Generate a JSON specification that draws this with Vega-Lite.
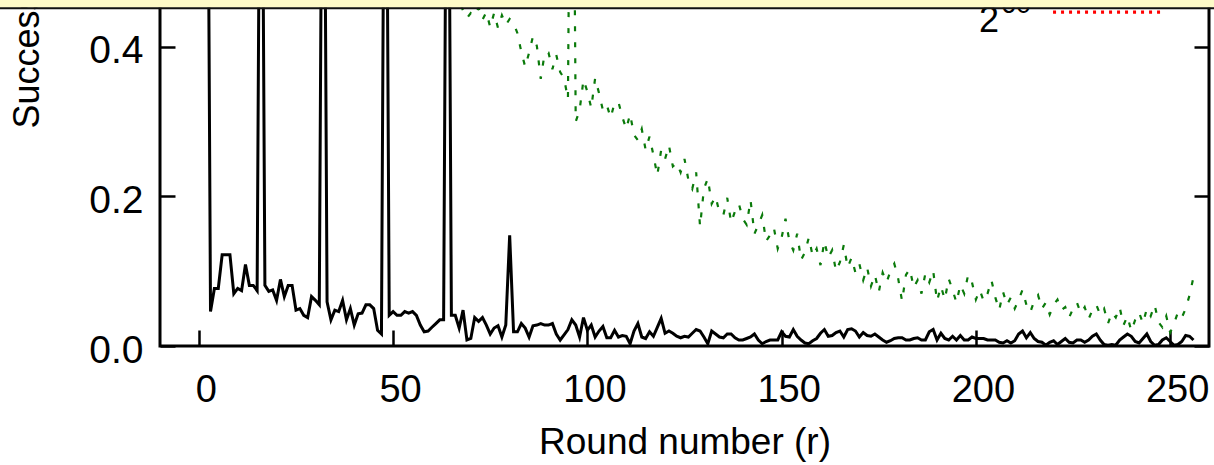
{
"$schema": "https://vega.github.io/schema/vega-lite/v6.json",
"width": 1049,
"height": 346,
"autosize": {"type": "none"},
"padding": {"left": 160, "top": 0, "right": 5, "bottom": 119},
"background": "white",
"config": {"font": "Liberation Sans", "view": {"stroke": "#000", "strokeWidth": 3}},
"resolve": {"axis": {"y": "independent"}},
"datasets": {
"measured": [
{"r":1,"p":1.0},{"r":2,"p":1.0},{"r":3,"p":0.046},{"r":4,"p":0.077},{"r":5,"p":0.077},{"r":6,"p":0.122},{"r":7,"p":0.122},{"r":8,"p":0.122},{"r":9,"p":0.070},{"r":10,"p":0.077},
{"r":11,"p":0.074},{"r":12,"p":0.109},{"r":13,"p":0.081},{"r":14,"p":0.081},{"r":15,"p":0.074},{"r":16,"p":1.0},{"r":17,"p":0.081},{"r":18,"p":0.073},{"r":19,"p":0.075},{"r":20,"p":0.061},
{"r":21,"p":0.089},{"r":22,"p":0.066},{"r":23,"p":0.081},{"r":24,"p":0.081},{"r":25,"p":0.048},{"r":26,"p":0.050},{"r":27,"p":0.041},{"r":28,"p":0.038},{"r":29,"p":0.066},{"r":30,"p":0.061},
{"r":31,"p":0.055},{"r":32,"p":1.0},{"r":33,"p":0.059},{"r":34,"p":0.035},{"r":35,"p":0.048},{"r":36,"p":0.046},{"r":37,"p":0.061},{"r":38,"p":0.035},{"r":39,"p":0.050},{"r":40,"p":0.028},
{"r":41,"p":0.043},{"r":42,"p":0.044},{"r":43,"p":0.055},{"r":44,"p":0.055},{"r":45,"p":0.050},{"r":46,"p":0.021},{"r":47,"p":0.016},{"r":48,"p":1.0},{"r":49,"p":0.041},{"r":50,"p":0.046},
{"r":51,"p":0.041},{"r":52,"p":0.041},{"r":53,"p":0.046},{"r":54,"p":0.044},{"r":55,"p":0.046},{"r":56,"p":0.041},{"r":57,"p":0.028},{"r":58,"p":0.019},{"r":59,"p":0.020},{"r":60,"p":0.025},
{"r":61,"p":0.030},{"r":62,"p":0.035},{"r":63,"p":0.035},{"r":64,"p":1.0},{"r":65,"p":0.041},{"r":66,"p":0.041},{"r":67,"p":0.024},{"r":68,"p":0.048},{"r":69,"p":0.008},{"r":70,"p":0.010},
{"r":71,"p":0.038},{"r":72,"p":0.033},{"r":73,"p":0.038},{"r":74,"p":0.028},{"r":75,"p":0.016},{"r":76,"p":0.024},{"r":77,"p":0.027},{"r":78,"p":0.012},{"r":79,"p":0.028},{"r":80,"p":0.148},
{"r":81,"p":0.019},{"r":82,"p":0.019},{"r":83,"p":0.030},{"r":84,"p":0.024},{"r":85,"p":0.012},{"r":86,"p":0.027},{"r":87,"p":0.028},{"r":88,"p":0.030},{"r":89,"p":0.028},{"r":90,"p":0.028},
{"r":91,"p":0.030},{"r":92,"p":0.016},{"r":93,"p":0.008},{"r":94,"p":0.015},{"r":95,"p":0.022},{"r":96,"p":0.035},{"r":97,"p":0.028},{"r":98,"p":0.012},{"r":99,"p":0.038},{"r":100,"p":0.021},
{"r":101,"p":0.028},{"r":102,"p":0.012},{"r":103,"p":0.020},{"r":104,"p":0.026},{"r":105,"p":0.011},{"r":106,"p":0.011},{"r":107,"p":0.021},{"r":108,"p":0.012},{"r":109,"p":0.014},{"r":110,"p":0.013},
{"r":111,"p":0.003},{"r":112,"p":0.020},{"r":113,"p":0.030},{"r":114,"p":0.012},{"r":115,"p":0.010},{"r":116,"p":0.019},{"r":117,"p":0.013},{"r":118,"p":0.025},{"r":119,"p":0.037},{"r":120,"p":0.017},
{"r":121,"p":0.020},{"r":122,"p":0.017},{"r":123,"p":0.013},{"r":124,"p":0.011},{"r":125,"p":0.013},{"r":126,"p":0.012},{"r":127,"p":0.017},{"r":128,"p":0.022},{"r":129,"p":0.020},{"r":130,"p":0.012},
{"r":131,"p":0.003},{"r":132,"p":0.020},{"r":133,"p":0.016},{"r":134,"p":0.012},{"r":135,"p":0.011},{"r":136,"p":0.016},{"r":137,"p":0.016},{"r":138,"p":0.011},{"r":139,"p":0.008},{"r":140,"p":0.008},
{"r":141,"p":0.010},{"r":142,"p":0.012},{"r":143,"p":0.016},{"r":144,"p":0.008},{"r":145,"p":0.003},{"r":146,"p":0.006},{"r":147,"p":0.008},{"r":148,"p":0.008},{"r":149,"p":0.008},{"r":150,"p":0.019},
{"r":151,"p":0.013},{"r":152,"p":0.012},{"r":153,"p":0.022},{"r":154,"p":0.013},{"r":155,"p":0.008},{"r":156,"p":0.004},{"r":157,"p":0.003},{"r":158,"p":0.007},{"r":159,"p":0.010},{"r":160,"p":0.017},
{"r":161,"p":0.022},{"r":162,"p":0.013},{"r":163,"p":0.014},{"r":164,"p":0.018},{"r":165,"p":0.020},{"r":166,"p":0.012},{"r":167,"p":0.022},{"r":168,"p":0.023},{"r":169,"p":0.020},{"r":170,"p":0.012},
{"r":171,"p":0.018},{"r":172,"p":0.014},{"r":173,"p":0.013},{"r":174,"p":0.016},{"r":175,"p":0.012},{"r":176,"p":0.008},{"r":177,"p":0.005},{"r":178,"p":0.007},{"r":179,"p":0.010},{"r":180,"p":0.011},
{"r":181,"p":0.011},{"r":182,"p":0.008},{"r":183,"p":0.008},{"r":184,"p":0.010},{"r":185,"p":0.011},{"r":186,"p":0.008},{"r":187,"p":0.008},{"r":188,"p":0.019},{"r":189,"p":0.022},{"r":190,"p":0.008},
{"r":191,"p":0.017},{"r":192,"p":0.010},{"r":193,"p":0.008},{"r":194,"p":0.013},{"r":195,"p":0.008},{"r":196,"p":0.014},{"r":197,"p":0.008},{"r":198,"p":0.008},{"r":199,"p":0.012},{"r":200,"p":0.010},
{"r":201,"p":0.010},{"r":202,"p":0.010},{"r":203,"p":0.008},{"r":204,"p":0.008},{"r":205,"p":0.008},{"r":206,"p":0.005},{"r":207,"p":0.004},{"r":208,"p":0.007},{"r":209,"p":0.004},{"r":210,"p":0.007},
{"r":211,"p":0.016},{"r":212,"p":0.020},{"r":213,"p":0.011},{"r":214,"p":0.018},{"r":215,"p":0.010},{"r":216,"p":0.006},{"r":217,"p":0.005},{"r":218,"p":0.001},{"r":219,"p":0.005},{"r":220,"p":0.007},
{"r":221,"p":0.002},{"r":222,"p":0.006},{"r":223,"p":0.010},{"r":224,"p":0.005},{"r":225,"p":0.004},{"r":226,"p":0.008},{"r":227,"p":0.008},{"r":228,"p":0.005},{"r":229,"p":0.008},{"r":230,"p":0.013},
{"r":231,"p":0.016},{"r":232,"p":0.008},{"r":233,"p":0.002},{"r":234,"p":0.001},{"r":235,"p":0.002},{"r":236,"p":0.001},{"r":237,"p":0.008},{"r":238,"p":0.012},{"r":239,"p":0.016},{"r":240,"p":0.013},
{"r":241,"p":0.006},{"r":242,"p":0.004},{"r":243,"p":0.010},{"r":244,"p":0.016},{"r":245,"p":0.006},{"r":246,"p":0.001},{"r":247,"p":0.002},{"r":248,"p":0.008},{"r":249,"p":0.011},{"r":250,"p":0.006},
{"r":251,"p":0.001},{"r":252,"p":0.002},{"r":253,"p":0.006},{"r":254,"p":0.014},{"r":255,"p":0.013},{"r":256,"p":0.008}
],
"theory": [
{"r":66,"p":0.475},{"r":67,"p":0.462},{"r":68,"p":0.448},{"r":69,"p":0.438},{"r":70,"p":0.445},
{"r":71,"p":0.441},{"r":72,"p":0.452},{"r":73,"p":0.436},{"r":74,"p":0.446},{"r":75,"p":0.426},{"r":76,"p":0.445},{"r":77,"p":0.425},{"r":78,"p":0.442},{"r":79,"p":0.429},{"r":80,"p":0.437},
{"r":81,"p":0.432},{"r":82,"p":0.418},{"r":83,"p":0.393},{"r":84,"p":0.373},{"r":85,"p":0.392},{"r":86,"p":0.414},{"r":87,"p":0.401},{"r":88,"p":0.357},{"r":89,"p":0.391},{"r":90,"p":0.392},
{"r":91,"p":0.370},{"r":92,"p":0.389},{"r":93,"p":0.366},{"r":94,"p":0.358},{"r":95,"p":0.330},{"r":96,"p":1.0},{"r":97,"p":0.300},{"r":98,"p":0.315},{"r":99,"p":0.356},{"r":100,"p":0.340},
{"r":101,"p":0.318},{"r":102,"p":0.358},{"r":103,"p":0.338},{"r":104,"p":0.315},{"r":105,"p":0.322},{"r":106,"p":0.305},{"r":107,"p":0.325},{"r":108,"p":0.326},{"r":109,"p":0.306},{"r":110,"p":0.290},
{"r":111,"p":0.310},{"r":112,"p":0.282},{"r":113,"p":0.275},{"r":114,"p":0.290},{"r":115,"p":0.262},{"r":116,"p":0.280},{"r":117,"p":0.255},{"r":118,"p":0.228},{"r":119,"p":0.262},{"r":120,"p":0.250},
{"r":121,"p":0.268},{"r":122,"p":0.240},{"r":123,"p":0.245},{"r":124,"p":0.232},{"r":125,"p":0.250},{"r":126,"p":0.222},{"r":127,"p":0.210},{"r":128,"p":0.232},{"r":129,"p":0.160},{"r":130,"p":0.210},
{"r":131,"p":0.224},{"r":132,"p":0.190},{"r":133,"p":0.200},{"r":134,"p":0.178},{"r":135,"p":0.175},{"r":136,"p":0.198},{"r":137,"p":0.165},{"r":138,"p":0.180},{"r":139,"p":0.190},{"r":140,"p":0.170},
{"r":141,"p":0.162},{"r":142,"p":0.195},{"r":143,"p":0.150},{"r":144,"p":0.162},{"r":145,"p":0.175},{"r":146,"p":0.140},{"r":147,"p":0.148},{"r":148,"p":0.158},{"r":149,"p":0.130},{"r":150,"p":0.145},
{"r":151,"p":0.170},{"r":152,"p":0.140},{"r":153,"p":0.128},{"r":154,"p":0.150},{"r":155,"p":0.115},{"r":156,"p":0.125},{"r":157,"p":0.145},{"r":158,"p":0.120},{"r":159,"p":0.130},{"r":160,"p":0.108},
{"r":161,"p":0.140},{"r":162,"p":0.118},{"r":163,"p":0.128},{"r":164,"p":0.100},{"r":165,"p":0.112},{"r":166,"p":0.135},{"r":167,"p":0.105},{"r":168,"p":0.118},{"r":169,"p":0.098},{"r":170,"p":0.110},
{"r":171,"p":0.088},{"r":172,"p":0.105},{"r":173,"p":0.080},{"r":174,"p":0.095},{"r":175,"p":0.072},{"r":176,"p":0.098},{"r":177,"p":0.085},{"r":178,"p":0.100},{"r":179,"p":0.110},{"r":180,"p":0.090},
{"r":181,"p":0.060},{"r":182,"p":0.095},{"r":183,"p":0.103},{"r":184,"p":0.078},{"r":185,"p":0.088},{"r":186,"p":0.070},{"r":187,"p":0.097},{"r":188,"p":0.085},{"r":189,"p":0.101},{"r":190,"p":0.060},
{"r":191,"p":0.080},{"r":192,"p":0.062},{"r":193,"p":0.090},{"r":194,"p":0.075},{"r":195,"p":0.058},{"r":196,"p":0.082},{"r":197,"p":0.070},{"r":198,"p":0.095},{"r":199,"p":0.085},{"r":200,"p":0.062},
{"r":201,"p":0.075},{"r":202,"p":0.060},{"r":203,"p":0.070},{"r":204,"p":0.088},{"r":205,"p":0.065},{"r":206,"p":0.048},{"r":207,"p":0.072},{"r":208,"p":0.055},{"r":209,"p":0.065},{"r":210,"p":0.050},
{"r":211,"p":0.062},{"r":212,"p":0.075},{"r":213,"p":0.055},{"r":214,"p":0.045},{"r":215,"p":0.060},{"r":216,"p":0.068},{"r":217,"p":0.050},{"r":218,"p":0.058},{"r":219,"p":0.042},{"r":220,"p":0.055},
{"r":221,"p":0.062},{"r":222,"p":0.048},{"r":223,"p":0.052},{"r":224,"p":0.038},{"r":225,"p":0.050},{"r":226,"p":0.058},{"r":227,"p":0.044},{"r":228,"p":0.052},{"r":229,"p":0.036},{"r":230,"p":0.048},
{"r":231,"p":0.055},{"r":232,"p":0.042},{"r":233,"p":0.050},{"r":234,"p":0.030},{"r":235,"p":0.045},{"r":236,"p":0.038},{"r":237,"p":0.052},{"r":238,"p":0.028},{"r":239,"p":0.040},{"r":240,"p":0.020},
{"r":241,"p":0.035},{"r":242,"p":0.045},{"r":243,"p":0.030},{"r":244,"p":0.050},{"r":245,"p":0.040},{"r":246,"p":0.055},{"r":247,"p":0.032},{"r":248,"p":0.025},{"r":249,"p":0.040},{"r":250,"p":0.018},
{"r":251,"p":0.030},{"r":252,"p":0.045},{"r":253,"p":0.038},{"r":254,"p":0.050},{"r":255,"p":0.068},{"r":256,"p":0.092}
],
"key": [{"base": "2", "exp": "60", "series": "2^60"}]
},
"layer": [
{
"data": {"name": "theory"},
"mark": {"type": "line", "clip": true, "color": "#0a7a0a", "strokeWidth": 2.2, "strokeDash": [5, 11]},
"encoding": {
"x": {"field": "r", "type": "quantitative", "scale": {"domain": [-10, 260], "nice": false, "zero": false},
"axis": {"orient": "bottom", "values": [0, 50, 100, 150, 200, 250], "format": "d", "domain": false, "grid": false, "ticks": true, "tickSize": -16, "tickWidth": 2.5, "tickColor": "#000", "labelFontSize": 38, "labelColor": "#000", "labelPadding": 71.5, "labelBaseline": "alphabetic", "labelOffset": 7, "labelFlush": false, "labelOverlap": false, "title": "Round number (r)", "titleFontSize": 37, "titleFontWeight": "normal", "titleColor": "#000", "titleBaseline": "alphabetic", "titleY": 107, "zindex": 0}},
"y": {"field": "p", "type": "quantitative", "scale": {"domain": [0, 0.4624], "nice": false, "zero": false},
"axis": {"orient": "left", "values": [0, 0.2, 0.4], "format": ".1f", "domain": false, "grid": false, "ticks": true, "tickSize": -15, "tickWidth": 2.5, "tickColor": "#000", "labelFontSize": 39, "labelColor": "#000", "labelPadding": 32, "labelAlign": "right", "labelBaseline": "alphabetic", "labelOffset": 16, "labelFlush": false, "labelOverlap": false, "title": "Success probability", "titleFontSize": 36, "titleFontWeight": "normal", "titleColor": "#000", "titleAngle": -90, "titleAlign": "left", "titleBaseline": "alphabetic", "titleX": -122, "titleY": 128, "zindex": 0}}
}
},
{
"data": {"name": "measured"},
"mark": {"type": "line", "clip": true, "color": "#000", "strokeWidth": 3},
"encoding": {
"x": {"field": "r", "type": "quantitative"},
"y": {"field": "p", "type": "quantitative",
"axis": {"orient": "right", "values": [0, 0.2, 0.4], "labels": false, "domain": false, "grid": false, "ticks": true, "tickSize": -15, "tickWidth": 2.5, "tickColor": "#000", "title": null, "zindex": 0}}
}
},
{
"data": {"name": "key"},
"mark": {"type": "text", "align": "right", "baseline": "alphabetic", "fontSize": 36, "color": "#000", "clip": false},
"encoding": {
"x": {"datum": 205.96, "type": "quantitative"},
"y": {"datum": 0.4196, "type": "quantitative", "axis": null},
"text": {"field": "base"}
}
},
{
"data": {"name": "key"},
"mark": {"type": "text", "align": "left", "baseline": "alphabetic", "fontSize": 27, "color": "#000", "clip": false},
"encoding": {
"x": {"datum": 206.47, "type": "quantitative"},
"y": {"datum": 0.445, "type": "quantitative", "axis": null},
"text": {"field": "exp"}
}
},
{
"data": {"name": "key"},
"mark": {"type": "rule", "color": "#ff0000", "strokeWidth": 3.2, "strokeDash": [3, 5], "clip": false},
"encoding": {
"x": {"datum": 219.86, "type": "quantitative"},
"x2": {"datum": 247.9},
"y": {"datum": 0.4463, "type": "quantitative", "axis": null}
}
},
{
"data": {"name": "key"},
"mark": {"type": "rect", "color": "#fefac8", "clip": false},
"encoding": {
"x": {"datum": -60, "type": "quantitative"},
"x2": {"datum": 275},
"y": {"datum": 0.4522, "type": "quantitative", "axis": null},
"y2": {"datum": 0.7}
}
},
{
"data": {"name": "key"},
"mark": {"type": "rule", "color": "#111", "strokeWidth": 2, "clip": false},
"encoding": {
"x": {"datum": -60, "type": "quantitative"},
"x2": {"datum": 275},
"y": {"datum": 0.4515, "type": "quantitative", "axis": null}
}
}
]
}
